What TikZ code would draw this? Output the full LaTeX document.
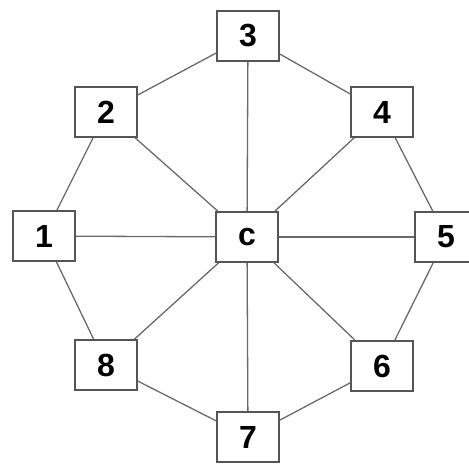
\documentclass[tikz,border=0pt]{standalone}
\usepackage{fontspec}
\setmainfont{Liberation Sans}
\usepackage{tikz}
\usetikzlibrary{positioning}
\definecolor{boxedge}{HTML}{555555}
\definecolor{spoke}{HTML}{6A6A6A}
\tikzset{
  numbox/.style={rectangle, draw=boxedge, line width=1.8pt, fill=white, minimum width=62pt, minimum height=50pt, inner sep=0pt, font=\fontsize{32}{32}\selectfont\bfseries},
  link/.style={draw=spoke, line width=1.3pt}
}
\begin{document}
\begin{tikzpicture}[x=1pt, y=-1pt]
  \useasboundingbox (0,0) rectangle (469,465);
  % Ring of nodes
  \node[numbox] (c) at (247,237) {c};
  \node[numbox] (n3) at (248,36) {3};
  \node[numbox] (n2) at (106,112) {2};
  \node[numbox] (n4) at (382,112) {4};
  \node[numbox] (n1) at (44,236) {1};
  \node[numbox] (n5) at (446,237) {5};
  \node[numbox] (n8) at (106,365) {8};
  \node[numbox] (n6) at (382,366) {6};
  \node[numbox] (n7) at (248,437) {7};

  % Outer ring and spokes
  \foreach \a/\b in {n1/n2, n2/n3, n3/n4, n4/n5, n5/n6, n6/n7, n7/n8, n8/n1}
    \draw[link] (\a) -- (\b);
  \foreach \a in {n1, n2, n3, n4, n5, n6, n7, n8}
    \draw[link] (c) -- (\a);
\end{tikzpicture}
\end{document}
